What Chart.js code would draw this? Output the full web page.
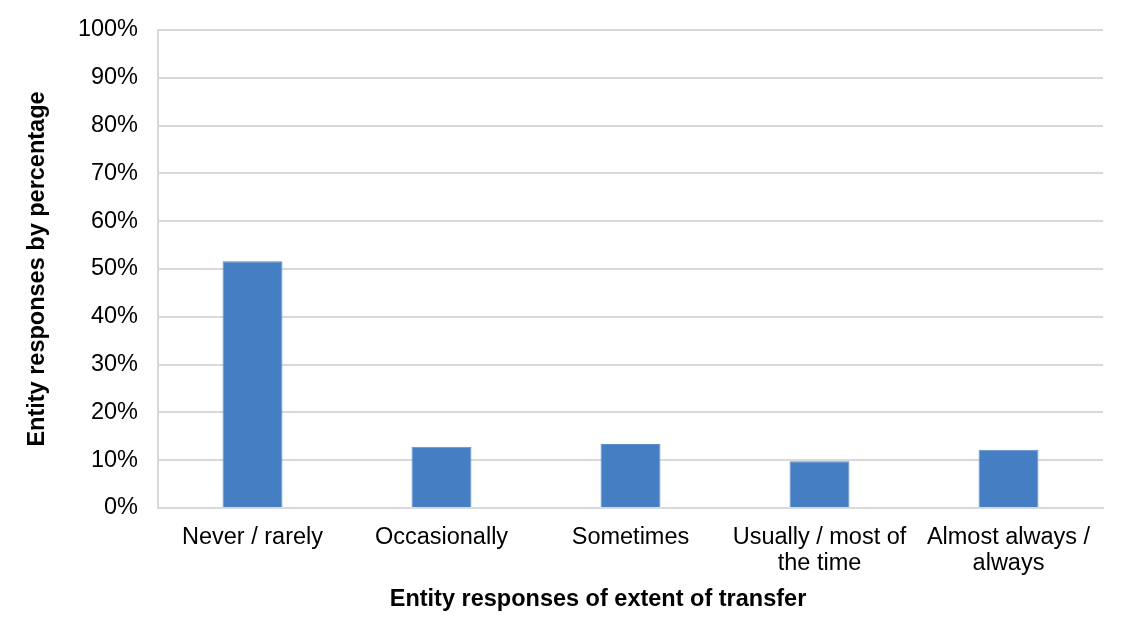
<!DOCTYPE html>
<html>
<head>
<meta charset="utf-8">
<script src="https://cdn.jsdelivr.net/npm/chart.js@4/dist/chart.umd.min.js"></script>
<style>
html,body{margin:0;padding:0;background:#fff;}
#wrap{width:1131px;height:631px;position:relative;}
</style>
</head>
<body>
<div id="wrap"><canvas id="c" width="1131" height="631"></canvas></div>
<script>
const categories = [
  "Never / rarely",
  "Occasionally",
  "Sometimes",
  ["Usually / most of", "the time"],
  ["Almost always /", "always"]
];
const values = [51.6, 12.8, 13.4, 9.8, 12.2];
const yTicks = [0, 10, 20, 30, 40, 50, 60, 70, 80, 90, 100];
const xTitle = "Entity responses of extent of transfer";
const yTitle = "Entity responses by percentage";

const FONT = "'Liberation Sans', Arial, sans-serif";
const FS = 23.5;
const PAD = {left: 14, right: 28, top: 30, bottom: 14};

// draws the x-axis title as canvas text, centred where the reference puts it
const xTitlePlugin = {
  id: 'xTitlePlugin',
  afterDraw(chart) {
    const ctx = chart.ctx;
    ctx.save();
    ctx.font = 'bold ' + FS + 'px ' + FONT;
    ctx.fillStyle = '#000';
    ctx.textAlign = 'center';
    ctx.textBaseline = 'alphabetic';
    ctx.fillText(xTitle, 598, 606);
    ctx.restore();
  }
};

new Chart(document.getElementById('c'), {
  type: 'bar',
  data: {
    labels: categories,
    datasets: [{
      data: values,
      backgroundColor: '#457ec2',
      borderColor: '#5b8fcc',
      borderWidth: 1,
      barPercentage: 0.317,
      categoryPercentage: 1.0
    }]
  },
  plugins: [xTitlePlugin],
  options: {
    responsive: false,
    animation: false,
    devicePixelRatio: 1,
    layout: {padding: PAD},
    plugins: {legend: {display: false}, tooltip: {enabled: false}},
    scales: {
      x: {
        grid: {display: false, drawTicks: false},
        border: {display: true, color: '#d9d9d9', width: 2},
        ticks: {
          color: '#000', padding: 16, maxRotation: 0, autoSkip: false,
          font: {family: FONT, size: FS, lineHeight: 1.12}
        },
        afterFit: s => {
          s.height = 631 - 508 - PAD.bottom;
          s.paddingLeft = 0; s.paddingRight = 0;
        }
      },
      y: {
        min: 0, max: 100,
        afterBuildTicks: s => { s.ticks = yTicks.map(v => ({value: v})); },
        grid: {color: '#d9d9d9', lineWidth: 2, drawTicks: false},
        border: {display: true, color: '#d9d9d9', width: 2},
        ticks: {
          color: '#000', padding: 20,
          font: {family: FONT, size: FS},
          callback: v => v + '%'
        },
        title: {
          display: true, text: yTitle, color: '#000',
          font: {family: FONT, size: FS, weight: 'bold'},
          padding: {top: 9, bottom: 0}
        },
        afterFit: s => {
          s.width = 158 - PAD.left;
          s.paddingTop = 0; s.paddingBottom = 0;
        }
      }
    }
  }
});
</script>
</body>
</html>
